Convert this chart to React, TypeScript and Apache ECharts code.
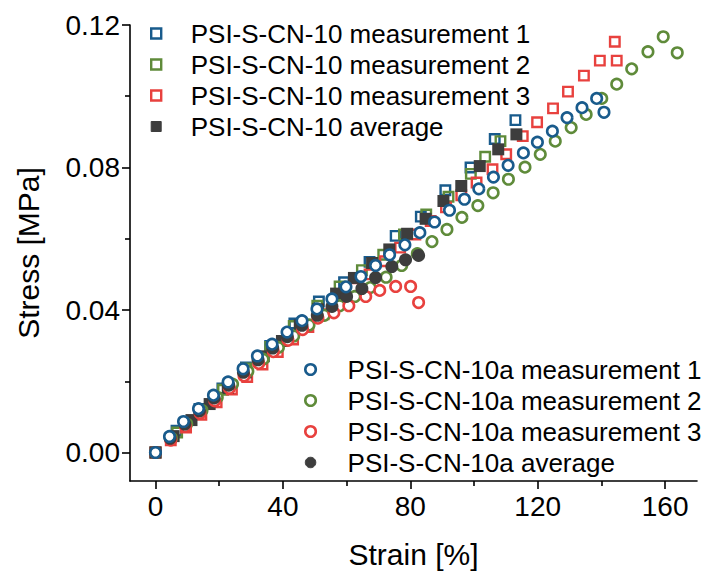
import React, { useEffect, useRef } from 'react';
import * as echarts from 'echarts';

// PSI-S-CN-10 (squares)
const sqM1X = [0, 6.6, 13.8, 21.0, 28.4, 36.0, 43.6, 51.3, 59.2, 67.2, 75.4, 83.3, 91.0, 98.9, 106.5, 113.0];
const sqM1Y = [0, 0.0061, 0.0122, 0.0180, 0.0239, 0.0299, 0.0362, 0.0424, 0.0478, 0.0535, 0.0608, 0.0662, 0.0736, 0.0800, 0.0880, 0.0933];
const sqM2X = [0, 6.8, 14.0, 21.2, 28.6, 36.0, 43.4, 50.8, 57.8, 64.8, 71.5, 78.0, 85.0, 92.0, 99.0, 103.5, 108.3];
const sqM2Y = [0, 0.0056, 0.0116, 0.0176, 0.0236, 0.0296, 0.0355, 0.0412, 0.0466, 0.0512, 0.0555, 0.0612, 0.0668, 0.0718, 0.0782, 0.0830, 0.0874];
const sqM3X = [0, 4.8, 9.6, 14.4, 19.2, 24.0, 28.8, 33.6, 38.4, 43.2, 48.0, 52.8, 57.6, 62.4, 67.2, 72.0, 76.8, 81.6, 86.4, 91.2, 96.0, 100.8, 105.8, 110.1, 115.3, 119.8, 124.8, 129.5, 134.5, 139.5, 144.2, 144.8];
const sqM3Y = [0, 0.0034, 0.0070, 0.0106, 0.0141, 0.0177, 0.0212, 0.0247, 0.0282, 0.0317, 0.0352, 0.0388, 0.0425, 0.0462, 0.0500, 0.0537, 0.0575, 0.0612, 0.0650, 0.0688, 0.0722, 0.0758, 0.0795, 0.0837, 0.0888, 0.0927, 0.0966, 0.1013, 0.1058, 0.1100, 0.1153, 0.1100];
const sqAvgX = [0, 5.7, 11.3, 17.0, 22.7, 28.3, 34.0, 39.7, 45.3, 51.0, 56.7, 62.3, 68.0, 73.4, 79.0, 84.8, 90.4, 96.0, 101.8, 107.6, 113.3];
const sqAvgY = [0, 0.0046, 0.0091, 0.0136, 0.0181, 0.0225, 0.0270, 0.0313, 0.0357, 0.0402, 0.0446, 0.0490, 0.0532, 0.0570, 0.0614, 0.0656, 0.0706, 0.0748, 0.0804, 0.0851, 0.0893];

// PSI-S-CN-10a (circles)
const ciM1X = [0, 4.4, 8.8, 13.5, 18.2, 22.8, 27.5, 32.0, 36.6, 41.3, 46.0, 50.7, 55.4, 59.8, 64.5, 69.1, 73.5, 78.3, 83.0, 87.6, 92.3, 97.0, 101.5, 106.1, 110.7, 115.5, 119.9, 124.6, 129.2, 133.9, 138.5, 140.8];
const ciM1Y = [0, 0.0045, 0.0087, 0.0123, 0.0161, 0.0198, 0.0235, 0.0271, 0.0304, 0.0338, 0.0370, 0.0403, 0.0431, 0.0465, 0.0494, 0.0525, 0.0555, 0.0583, 0.0617, 0.0647, 0.0680, 0.0711, 0.0740, 0.0773, 0.0806, 0.0841, 0.0871, 0.0902, 0.0940, 0.0968, 0.0994, 0.0955];
const ciM2X = [0, 5.0, 9.8, 14.6, 19.4, 24.2, 29.0, 33.8, 38.6, 43.4, 48.2, 53.0, 57.8, 62.6, 67.4, 72.4, 77.3, 82.2, 86.8, 91.5, 96.2, 101.2, 106.0, 110.8, 116.0, 120.8, 125.5, 130.5, 135.2, 140.1, 144.8, 149.5, 154.6, 159.4, 163.8];
const ciM2Y = [0, 0.0040, 0.0080, 0.0118, 0.0155, 0.0192, 0.0228, 0.0262, 0.0295, 0.0327, 0.0358, 0.0385, 0.0412, 0.0438, 0.0463, 0.0492, 0.0525, 0.0558, 0.0592, 0.0626, 0.0660, 0.0693, 0.0729, 0.0767, 0.0801, 0.0837, 0.0874, 0.0912, 0.0949, 0.0994, 0.1034, 0.1077, 0.1125, 0.1167, 0.1122];
const ciM3X = [0, 4.8, 9.4, 14.0, 18.6, 23.2, 27.8, 32.4, 37.0, 41.6, 46.2, 51.0, 56.0, 60.7, 66.0, 70.4, 75.4, 80.1, 82.6];
const ciM3Y = [0, 0.0035, 0.0073, 0.0110, 0.0145, 0.0180, 0.0215, 0.0250, 0.0283, 0.0315, 0.0345, 0.0377, 0.0392, 0.0412, 0.0438, 0.0455, 0.0466, 0.0466, 0.0421];
const ciAvgX = [0, 4.6, 9.2, 13.8, 18.4, 23.0, 27.6, 32.2, 36.8, 41.4, 46.0, 50.8, 55.4, 60.0, 64.8, 69.1, 74.2, 78.5, 82.6];
const ciAvgY = [0, 0.0040, 0.0080, 0.0117, 0.0153, 0.0189, 0.0225, 0.0260, 0.0293, 0.0325, 0.0357, 0.0385, 0.0410, 0.0438, 0.0460, 0.0491, 0.0522, 0.0541, 0.0553];

const xMajor = [0, 40, 80, 120, 160];
const xMinor = [20, 60, 100, 140];
const yMajor = [0, 0.04, 0.08, 0.12];
const yMinor = [0.02, 0.06, 0.1];

const names = {
  sq1: 'PSI-S-CN-10 measurement 1',
  sq2: 'PSI-S-CN-10 measurement 2',
  sq3: 'PSI-S-CN-10 measurement 3',
  sqA: 'PSI-S-CN-10 average',
  ci1: 'PSI-S-CN-10a measurement 1',
  ci2: 'PSI-S-CN-10a measurement 2',
  ci3: 'PSI-S-CN-10a measurement 3',
  ciA: 'PSI-S-CN-10a average',
};

const BLUE = '#195b8c';
const GREEN = '#5f8b3a';
const RED = '#e8413e';
const DARK = '#3d3d3d';
const FONT = 'Arial, "Liberation Sans", sans-serif';
const SQ_PATH = 'path://M0,0H10V10H0Z';

const zip = (xs: number[], ys: number[]) => xs.map((x, i) => [x, ys[i]]);

const openSquare = (name: string, color: string, xs: number[], ys: number[]) => ({
  type: 'scatter', name, data: zip(xs, ys), symbol: 'rect', symbolSize: 9.5,
  itemStyle: { color: 'rgba(255,255,255,0)', borderColor: color, borderWidth: 2.4, opacity: 1 },
});
const openCircle = (name: string, color: string, xs: number[], ys: number[]) => ({
  type: 'scatter', name, data: zip(xs, ys), symbol: 'circle', symbolSize: 10.5,
  itemStyle: { color: '#ffffff', borderColor: color, borderWidth: 2.6, opacity: 1 },
});

export default function App() {
  const ref = useRef<HTMLDivElement>(null);
  useEffect(() => {
    const chart = echarts.init(ref.current!, null, { renderer: 'svg' });
    const axisLine = { show: true, onZero: false, lineStyle: { color: '#000', width: 1.6 } };
    const legendText = { color: '#000', fontSize: 26, fontFamily: FONT, lineHeight: 31 };
    const option: any = {
      animation: false,
      backgroundColor: '#fff',
      grid: { left: 130, right: 5, top: 25, bottom: 90, containLabel: false },
      xAxis: [
        {
          type: 'value', min: -8, max: 170, position: 'bottom',
          axisLine,
          axisTick: { show: true, length: 8, customValues: xMajor, lineStyle: { color: '#000', width: 1.6 } },
          axisLabel: { customValues: xMajor, color: '#000', fontSize: 28, fontFamily: FONT, margin: 11 },
          splitLine: { show: false },
          name: 'Strain [%]', nameLocation: 'middle', nameGap: 58,
          nameTextStyle: { color: '#000', fontSize: 30, fontFamily: FONT },
        },
        {
          type: 'value', min: -8, max: 170, position: 'bottom',
          axisLine: { show: false, onZero: false },
          axisTick: { show: true, length: 5, customValues: xMinor, lineStyle: { color: '#000', width: 1.6 } },
          axisLabel: { show: false },
          splitLine: { show: false },
        },
      ],
      yAxis: [
        {
          type: 'value', min: -0.008, max: 0.12, position: 'left',
          axisLine,
          axisTick: { show: true, length: 8, customValues: yMajor, lineStyle: { color: '#000', width: 1.6 } },
          axisLabel: { customValues: yMajor, color: '#000', fontSize: 28, fontFamily: FONT, margin: 10, formatter: (v: number) => v.toFixed(2) },
          splitLine: { show: false },
          name: 'Stress [MPa]', nameLocation: 'middle', nameGap: 87,
          nameTextStyle: { color: '#000', fontSize: 30, fontFamily: FONT },
        },
        {
          type: 'value', min: -0.008, max: 0.12, position: 'left',
          axisLine: { show: false, onZero: false },
          axisTick: { show: true, length: 5, customValues: yMinor, lineStyle: { color: '#000', width: 1.6 } },
          axisLabel: { show: false },
          splitLine: { show: false },
        },
      ],
      legend: [
        {
          orient: 'vertical', left: 150, top: 18, padding: 0, itemGap: 0,
          itemWidth: 59, itemHeight: 10, selectedMode: false,
          textStyle: legendText,
          data: [
            { name: names.sq1, icon: SQ_PATH, itemStyle: { color: '#fff', borderColor: BLUE, borderWidth: 2.4 } },
            { name: names.sq2, icon: SQ_PATH, itemStyle: { color: '#fff', borderColor: GREEN, borderWidth: 2.4 } },
            { name: names.sq3, icon: SQ_PATH, itemStyle: { color: '#fff', borderColor: RED, borderWidth: 2.4 } },
            { name: names.sqA, icon: SQ_PATH, itemStyle: { color: DARK, borderColor: DARK, borderWidth: 1 } },
          ],
        },
        {
          orient: 'vertical', left: 304, top: 354, padding: 0, itemGap: 0,
          itemWidth: 64, itemHeight: 10.5, selectedMode: false,
          textStyle: legendText,
          data: [
            { name: names.ci1, icon: 'circle', itemStyle: { color: '#fff', borderColor: BLUE, borderWidth: 2.6 } },
            { name: names.ci2, icon: 'circle', itemStyle: { color: '#fff', borderColor: GREEN, borderWidth: 2.6 } },
            { name: names.ci3, icon: 'circle', itemStyle: { color: '#fff', borderColor: RED, borderWidth: 2.6 } },
            { name: names.ciA, icon: 'circle', itemStyle: { color: DARK, borderColor: DARK, borderWidth: 1 } },
          ],
        },
      ],
      series: [
        openSquare(names.sq1, BLUE, sqM1X, sqM1Y),
        openSquare(names.sq2, GREEN, sqM2X, sqM2Y),
        openSquare(names.sq3, RED, sqM3X, sqM3Y),
        { type: 'scatter', name: names.sqA, data: zip(sqAvgX, sqAvgY), symbol: 'rect', symbolSize: 12, itemStyle: { color: DARK, opacity: 1 } },
        openCircle(names.ci2, GREEN, ciM2X, ciM2Y),
        openCircle(names.ci3, RED, ciM3X, ciM3Y),
        { type: 'scatter', name: names.ciA, data: zip(ciAvgX, ciAvgY), symbol: 'circle', symbolSize: 13, itemStyle: { color: DARK, opacity: 1 } },
        openCircle(names.ci1, BLUE, ciM1X, ciM1Y),
      ],
    };
    chart.setOption(option);
    return () => chart.dispose();
  }, []);
  return <div ref={ref} style={{ position: 'fixed', left: 0, top: 0, width: 702, height: 574 }} />;
}
